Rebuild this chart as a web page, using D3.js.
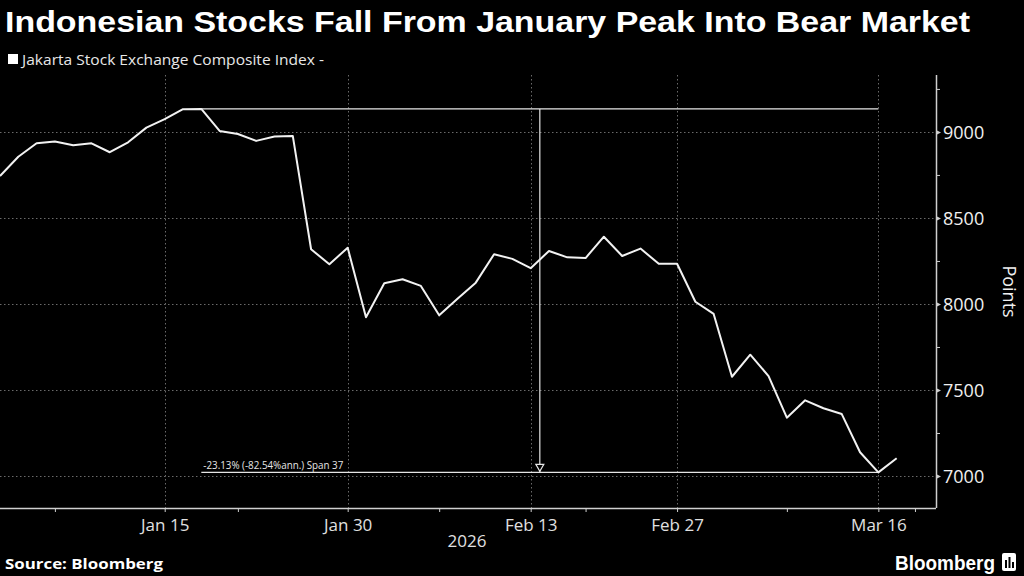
<!DOCTYPE html>
<html><head><meta charset="utf-8">
<script src="https://cdn.jsdelivr.net/npm/d3@7"></script>
<style>html,body{margin:0;background:#000;}svg{display:block;}</style>
</head><body><svg id="c" width="1024" height="576"></svg>
<script>
// ---- data ----
const dates = ["Jan 2","Jan 5","Jan 6","Jan 7","Jan 8","Jan 9","Jan 12","Jan 13","Jan 14","Jan 15",
  "Jan 19","Jan 20","Jan 21","Jan 22","Jan 23","Jan 26","Jan 27","Jan 28","Jan 29","Jan 30",
  "Feb 2","Feb 3","Feb 4","Feb 5","Feb 6","Feb 9","Feb 10","Feb 11","Feb 12","Feb 13",
  "Feb 18","Feb 19","Feb 20","Feb 23","Feb 24","Feb 25","Feb 26","Feb 27",
  "Mar 2","Mar 3","Mar 4","Mar 5","Mar 6","Mar 9","Mar 10","Mar 11","Mar 12","Mar 13","Mar 16","Mar 17"];
const values = [8744,8856,8934,8944,8923,8934,8882,8940,9025,9074,
  9132,9134,9006,8988,8948,8973,8977,8318,8231,8327,
  7923,8120,8144,8105,7934,8030,8124,8289,8262,8208,
  8308,8271,8267,8391,8279,8322,8234,8234,
  8013,7942,7577,7705,7581,7339,7440,7394,7360,7138,7021,7103];
const axisExtraDates = ["Mar 18"];
const xTickLabels = ["Jan 15","Jan 30","Feb 13","Feb 27","Mar 16"];
const xMinorTicks = ["Jan 7","Jan 22","Feb 6","Feb 20","Mar 9","Mar 18"];
const yTicks = [7000,7500,8000,8500,9000];
const yMinorTicks = [7250,7750,8250,8750,9250];
const yDomain = [6814,9331];
const title = "Indonesian Stocks Fall From January Peak Into Bear Market";
const legendLabel = "Jakarta Stock Exchange Composite Index -";
const annotationText = "-23.13% (-82.54%ann.) Span 37";
const yearLabel = "2026";
const yAxisTitle = "Points";
const source = "Source: Bloomberg";

// ---- layout ----
const svg = d3.select("#c");
const W = 1024, H = 576;
const plot = {left:0, right:936, top:75, bottom:508};
const axisDates = dates.concat(axisExtraDates);
const idx = d => axisDates.indexOf(d);
const x = d3.scaleLinear().domain([0, 51.15]).range([plot.left, plot.right]);
const y = d3.scaleLinear().domain(yDomain).range([plot.bottom, plot.top]);
const font = "'Open Sans', 'DejaVu Sans', sans-serif";

svg.append("rect").attr("width",W).attr("height",H).attr("fill","#000");

// title
svg.append("text").attr("x",5).attr("y",32).attr("fill","#fff")
  .attr("font-family","'Liberation Sans', Arial, sans-serif").attr("font-weight","bold")
  .attr("font-size",30).attr("textLength",965).attr("lengthAdjust","spacingAndGlyphs").text(title);

// legend
svg.append("rect").attr("x",8).attr("y",54).attr("width",10).attr("height",10).attr("fill","#fff");
svg.append("text").attr("x",22).attr("y",64.5).attr("fill","#e8e8e8")
  .attr("font-family",font).attr("font-size",14).attr("textLength",302).attr("lengthAdjust","spacingAndGlyphs").text(legendLabel);

// grid
const grid = svg.append("g").attr("stroke","#6a6a6a").attr("stroke-width",1).attr("stroke-dasharray","1.5,2.5");
grid.selectAll("line.h").data(yTicks).join("line")
  .attr("x1",plot.left).attr("x2",plot.right)
  .attr("y1",d=>Math.round(y(d))+0.5).attr("y2",d=>Math.round(y(d))+0.5);
grid.selectAll("line.v").data(xTickLabels).join("line")
  .attr("y1",plot.top).attr("y2",plot.bottom)
  .attr("x1",d=>Math.round(x(idx(d)))+0.5).attr("x2",d=>Math.round(x(idx(d)))+0.5);

// x axis
const axisColor = "#cfcfcf";
const xAxis = svg.append("g").attr("transform",`translate(0,${plot.bottom})`)
  .call(d3.axisBottom(x).tickValues(xTickLabels.map(idx)).tickFormat(i=>axisDates[i]).tickSize(4).tickPadding(7));
xAxis.select(".domain").attr("stroke",axisColor).attr("stroke-width",1.5).attr("d",`M${plot.left},0.5H${plot.right}`);
xAxis.selectAll(".tick line").attr("stroke",axisColor);
xAxis.selectAll(".tick text").attr("fill","#e0e0e0").attr("font-family",font).attr("font-size",17);
svg.append("g").attr("transform",`translate(0,${plot.bottom})`)
  .call(d3.axisBottom(x).tickValues(xMinorTicks.map(idx)).tickFormat("").tickSize(4))
  .call(g=>g.select(".domain").remove())
  .selectAll(".tick line").attr("stroke",axisColor);

svg.append("text").attr("x",467).attr("y",547).attr("text-anchor","middle").attr("fill","#e0e0e0")
  .attr("font-family",font).attr("font-size",17).text(yearLabel);

// y axis (right)
const yAxis = svg.append("g").attr("transform",`translate(${plot.right},0)`)
  .call(d3.axisRight(y).tickValues(yTicks).tickFormat(d3.format("d")).tickSize(0).tickPadding(7));
yAxis.select(".domain").attr("stroke",axisColor).attr("stroke-width",1.5).attr("d",`M0.5,${plot.top}V${plot.bottom}`);
yAxis.selectAll(".tick text").attr("fill","#f0f0f0").attr("font-family",font).attr("font-size",18).attr("dy","0.34em");
yAxis.selectAll(".tick").append("path").attr("d","M0,-2.5L5,0L0,2.5Z").attr("fill",axisColor);
svg.append("g").attr("transform",`translate(${plot.right},0)`)
  .call(d3.axisRight(y).tickValues(yMinorTicks).tickFormat("").tickSize(4))
  .call(g=>g.select(".domain").remove())
  .selectAll(".tick line").attr("stroke",axisColor);

svg.append("text").attr("transform",`translate(1003,${(plot.top+plot.bottom)/2}) rotate(90)`)
  .attr("text-anchor","middle").attr("fill","#f0f0f0").attr("font-family",font).attr("font-size",18).text(yAxisTitle);

// annotation
const peakI = values.indexOf(d3.max(values));
const after = values.slice(peakI);
const troughI = peakI + after.indexOf(d3.min(after));
const ann = svg.append("g").attr("stroke","#e6e6e6").attr("stroke-width",1.2).attr("fill","none");
const yP = y(values[peakI]), yT = y(values[troughI]);
ann.append("line").attr("x1",x(peakI)).attr("x2",x(troughI)).attr("y1",yP).attr("y2",yP);
ann.append("line").attr("x1",x(peakI)).attr("x2",x(troughI)).attr("y1",yT).attr("y2",yT);
const xm = (x(peakI)+x(troughI))/2;
ann.append("line").attr("x1",xm).attr("x2",xm).attr("y1",yP).attr("y2",yT);
ann.append("path").attr("d",`M${xm-4},${yT-8}L${xm+4},${yT-8}L${xm},${yT-1}Z`).attr("fill","#000");
svg.append("text").attr("x",x(peakI)+2).attr("y",yT-3).attr("fill","#e6e6e6")
  .attr("font-family",font).attr("font-size",10.5).attr("textLength",140).attr("lengthAdjust","spacingAndGlyphs").text(annotationText);

// line
svg.append("path").datum(values)
  .attr("fill","none").attr("stroke","#f2f2f2").attr("stroke-width",2).attr("stroke-linejoin","round")
  .attr("d",d3.line().x((d,i)=>x(i)).y(d=>y(d)));

// footer
svg.append("text").attr("x",5).attr("y",569).attr("fill","#fff").attr("font-family",font)
  .attr("font-weight","bold").attr("font-size",14).attr("textLength",158).attr("lengthAdjust","spacingAndGlyphs").text(source);
const logo = svg.append("g");
logo.append("text").attr("x",895).attr("y",570).attr("fill","#fff").attr("font-family","'Liberation Sans', Arial, sans-serif")
  .attr("font-weight","bold").attr("font-size",21).attr("textLength",100).attr("lengthAdjust","spacingAndGlyphs").text("Bloomberg");
logo.append("rect").attr("x",1002).attr("y",553).attr("width",14).attr("height",18).attr("rx",2).attr("fill","#fff");
logo.append("rect").attr("x",1005).attr("y",560).attr("width",2).attr("height",8).attr("fill","#000");
logo.append("rect").attr("x",1008.5).attr("y",557).attr("width",2).attr("height",11).attr("fill","#000");
logo.append("rect").attr("x",1012).attr("y",562).attr("width",2).attr("height",6).attr("fill","#000");
</script></body></html>
